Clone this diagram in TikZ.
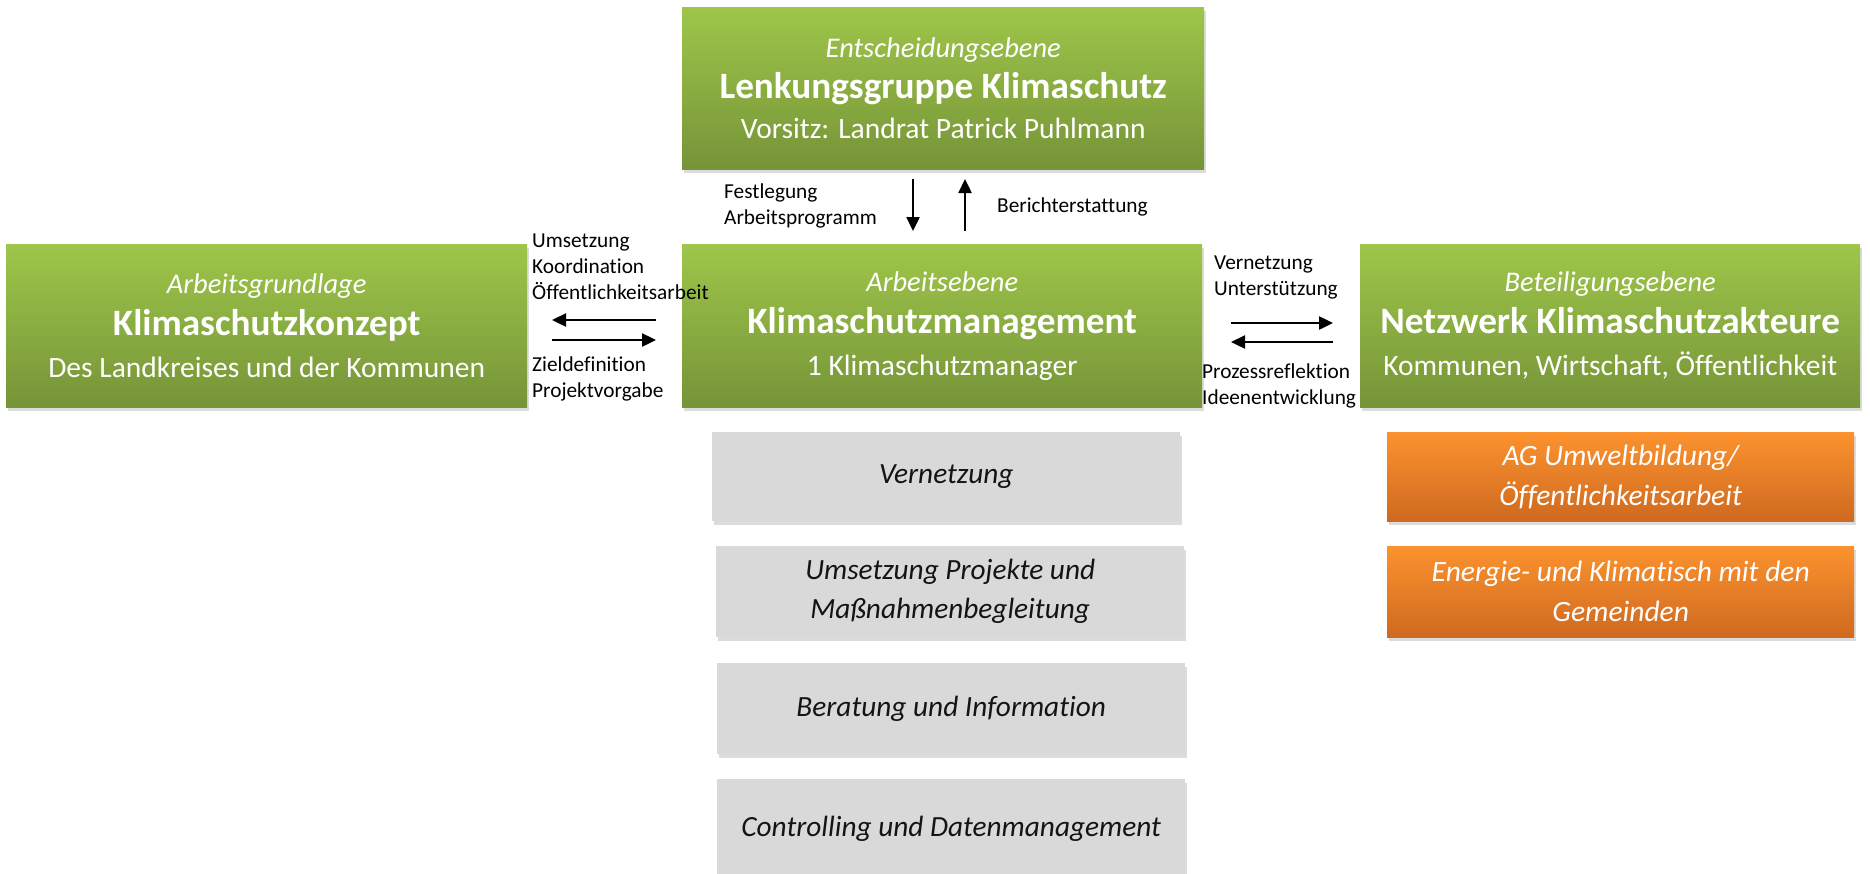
\documentclass[tikz,border=0pt]{standalone}
\usepackage{fontspec}
\setmainfont{Carlito}[Ligatures=NoCommon]
\usetikzlibrary{shadows,arrows.meta}
\definecolor{gtop}{RGB}{158,198,74}
\definecolor{gbot}{RGB}{118,148,56}
\definecolor{otop}{RGB}{252,146,46}
\definecolor{obot}{RGB}{206,106,32}
\definecolor{greyfill}{RGB}{217,217,217}
\definecolor{txt}{RGB}{20,20,20}
\newcommand{\dn}[2]{\raisebox{-#1pt}{#2}}
\begin{document}
\begin{tikzpicture}[x=1pt,y=-1pt,
  box/.style={anchor=north west, inner sep=0pt, align=center,
    drop shadow={shadow xshift=2pt, shadow yshift=-4pt, opacity=0.28}},
  greenbox/.style={box, top color=gtop, bottom color=gbot, text=white,
    font=\fontsize{29.5}{42}\selectfont},
  orangebox/.style={box, top color=otop, bottom color=obot, text=white,
    font=\fontsize{29.5}{40}\selectfont\itshape, minimum width=467pt},
  greybox/.style={box, fill=greyfill, text=txt,
    font=\fontsize{29.3}{39}\selectfont\itshape, minimum width=468pt},
  lbl/.style={anchor=west, align=left, inner sep=0pt, text=black,
    font=\fontsize{21.3}{26}\selectfont},
  arr/.style={line width=2.4pt, -{Triangle[length=14pt,width=13pt]}}
]
\useasboundingbox (0,0) rectangle (1870,873);

% green level boxes
\node[greenbox, minimum width=522pt, minimum height=162pt] (top) at (682,7)
  {\dn{5}{\fontsize{28.5}{42}\selectfont\itshape Entscheidungsebene}\\
   \dn{4}{\fontsize{37.2}{42}\selectfont\bfseries Lenkungsgruppe Klimaschutz}\\
   \dn{2}{Vorsitz: Landrat Patrick Puhlmann}};
\node[greenbox, minimum width=521pt, minimum height=163pt] (left) at (6,244)
  {\dn{3}{\fontsize{28.5}{42}\selectfont\itshape Arbeitsgrundlage}\\
   \dn{3}{\fontsize{37.2}{42}\selectfont\bfseries Klimaschutzkonzept}\\
   \dn{3}{Des Landkreises und der Kommunen}};
\node[greenbox, minimum width=520pt, minimum height=163pt] (mid) at (682,244)
  {\dn{3}{\fontsize{28.5}{42}\selectfont\itshape Arbeitsebene}\\
   \dn{3}{\fontsize{37.2}{42}\selectfont\bfseries Klimaschutzmanagement}\\
   \dn{3}{1 Klimaschutzmanager}};
\node[greenbox, minimum width=500pt, minimum height=163pt] (right) at (1360,244)
  {\dn{3}{\fontsize{28.5}{42}\selectfont\itshape Beteiligungsebene}\\
   \dn{3}{\fontsize{37.2}{42}\selectfont\bfseries Netzwerk Klimaschutzakteure}\\
   \dn{3}{Kommunen, Wirtschaft, Öffentlichkeit}};

% grey task boxes
\node[greybox, minimum height=89pt] (t1) at (712,432) {\dn{5}{Vernetzung}};
\node[greybox, minimum height=91pt] (t2) at (716,546) {\dn{4}{Umsetzung Projekte und}\\\dn{4}{Maßnahmenbegleitung}};
\node[greybox, minimum height=91pt] (t3) at (717,663) {\dn{3}{Beratung und Information}};
\node[greybox, minimum height=100pt] (t4) at (717,779) {\raisebox{6pt}{Controlling und Datenmanagement}};

% orange working groups
\node[orangebox, minimum height=89pt] (o1) at (1387,432) {AG Umweltbildung/\\Öffentlichkeitsarbeit};
\node[orangebox, minimum height=91pt] (o2) at (1387,546) {Energie- und Klimatisch mit den\\Gemeinden};

% arrow end points
\coordinate (d1) at (913,179); \coordinate (d2) at (913,231);
\coordinate (u1) at (965,231); \coordinate (u2) at (965,179);
\coordinate (la1) at (656,320); \coordinate (la2) at (552,320);
\coordinate (ra1) at (552,340); \coordinate (ra2) at (656,340);
\coordinate (rr1) at (1231,323); \coordinate (rr2) at (1333,323);
\coordinate (rl1) at (1333,342); \coordinate (rl2) at (1231,342);

\draw[arr] (d1) -- (d2);
\draw[arr] (u1) -- (u2);
\draw[arr] (la1) -- (la2);
\draw[arr] (ra1) -- (ra2);
\draw[arr] (rr1) -- (rr2);
\draw[arr] (rl1) -- (rl2);

% labels
\node[lbl] (l1) at (724,206) {Festlegung\\Arbeitsprogramm};
\node[lbl] (l2) at (997,207) {Berichterstattung};
\node[lbl] (l3) at (532,267) {Umsetzung\\Koordination\\Öffentlichkeitsarbeit};
\node[lbl] (l4) at (532,379) {Zieldefinition\\Projektvorgabe};
\node[lbl] (l5) at (1214,277) {Vernetzung\\Unterstützung};
\node[lbl] (l6) at (1202,386) {Prozessreflektion\\Ideenentwicklung};
\end{tikzpicture}
\end{document}
